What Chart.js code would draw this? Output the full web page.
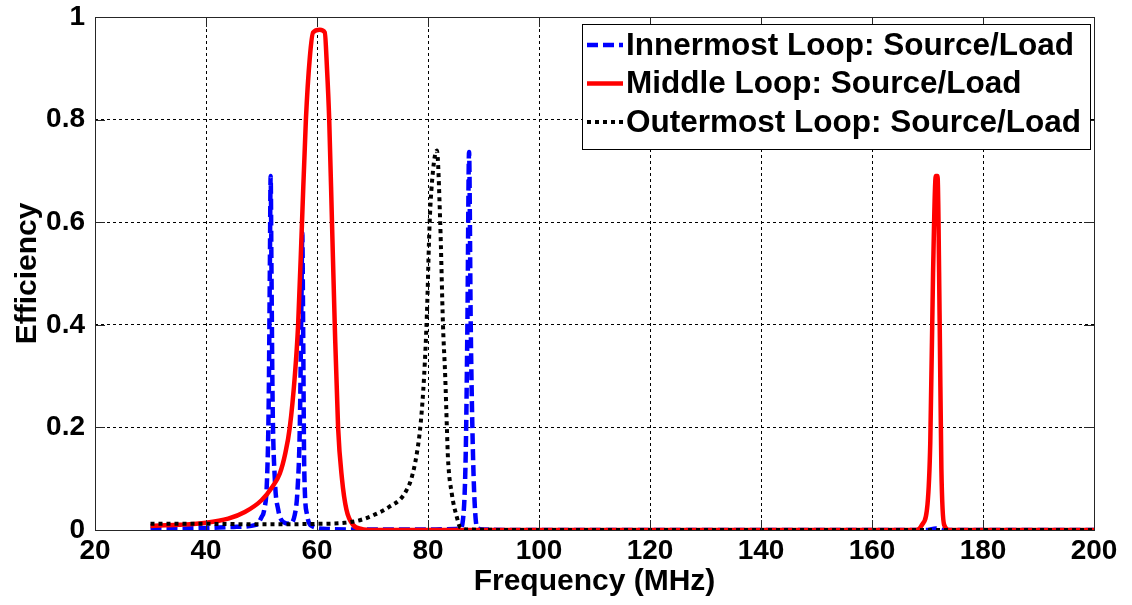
<!DOCTYPE html>
<html>
<head>
<meta charset="utf-8">
<script src="https://cdn.jsdelivr.net/npm/chart.js@4.4.1/dist/chart.umd.min.js"></script>
<style>
  html, body { margin: 0; padding: 0; background: #fff; }
  #wrap { width: 1132px; height: 605px; }
</style>
</head>
<body>
<div id="wrap"><canvas id="chart" width="1132" height="605"></canvas></div>
<script>
const FONT = '"Liberation Sans", Arial, sans-serif';

const X_TICKS = [20, 40, 60, 80, 100, 120, 140, 160, 180, 200];
const Y_TICKS = [0, 0.2, 0.4, 0.6, 0.8, 1];

// innermost loop, frequency in MHz and efficiency
const innerFreq = [30, 35, 40, 45, 49, 50, 50.5, 51, 51.3, 51.5, 51.65, 51.8, 52, 52.4, 53, 54, 55,
  56, 56.5, 56.9, 57.2, 57.35, 57.5, 57.7, 58.2, 59, 62, 70, 80, 85, 85.8, 86.3, 86.8, 87.1, 87.4,
  87.7, 88.1, 88.6, 89, 90, 100, 150, 170, 171.5, 173, 200];
const innerEff = [0.003, 0.003, 0.004, 0.006, 0.01, 0.025, 0.04, 0.1, 0.25, 0.5, 0.69, 0.5, 0.25, 0.1, 0.04, 0.015, 0.012,
  0.03, 0.08, 0.2, 0.45, 0.58, 0.4, 0.12, 0.03, 0.008, 0.002, 0.001, 0.001, 0.002, 0.003, 0.02, 0.15, 0.4, 0.737,
  0.4, 0.15, 0.02, 0.003, 0.001, 0, 0, 0, 0.003, 0, 0];

// middle loop
const middleFreq = [30, 35, 40, 44, 47, 50, 52, 53.3, 54.3, 55.1, 56, 56.6, 57.3, 58, 58.7, 59.3, 60.5,
  61.4, 61.8, 62.2, 62.7, 63.2, 63.8, 64.5, 65.3, 66.5, 68, 70, 168, 169, 170, 170.5, 171, 171.5,
  171.8, 172.2, 172.5, 173, 174, 200];
const middleEff = [0.008, 0.01, 0.014, 0.022, 0.035, 0.058, 0.085, 0.11, 0.15, 0.2, 0.3, 0.4, 0.6, 0.8, 0.92, 0.97, 0.975,
  0.97, 0.9, 0.8, 0.6, 0.4, 0.2, 0.1, 0.04, 0.01, 0.002, 0, 0, 0.01, 0.05, 0.17, 0.5, 0.69,
  0.69, 0.4, 0.12, 0.01, 0, 0];

// outermost loop
const outerFreq = [30, 40, 50, 60, 65, 68, 71.4, 73, 75, 76, 77, 78, 78.7, 79.3, 79.8, 80.3, 80.9, 81.6,
  82.2, 82.7, 83.1, 83.4, 83.6, 84.3, 85.2, 85.8, 87, 100, 200];
const outerEff = [0.012, 0.012, 0.011, 0.012, 0.014, 0.02, 0.035, 0.045, 0.06, 0.075, 0.1, 0.15, 0.21, 0.3, 0.42, 0.6, 0.7, 0.74,
  0.6, 0.4, 0.3, 0.2, 0.14, 0.07, 0.025, 0.005, 0.001, 0, 0];

const LABELS = [
  "Innermost Loop: Source/Load",
  "Middle Loop: Source/Load",
  "Outermost Loop: Source/Load",
];

function toPoints(xs, ys) {
  return xs.map((x, i) => ({ x: x, y: ys[i] }));
}

// boxed legend in the upper right plus the closed axes frame with inward ticks
const frameAndLegend = {
  id: "frameAndLegend",
  afterDraw(chart) {
    const ctx = chart.ctx;
    const area = chart.chartArea;
    const xs = chart.scales.x;
    const ys = chart.scales.y;

    ctx.save();
    ctx.strokeStyle = "#262626";
    ctx.lineWidth = 1;
    ctx.setLineDash([]);
    ctx.beginPath();
    X_TICKS.forEach((v) => {
      const px = Math.round(xs.getPixelForValue(v)) + 0.5;
      ctx.moveTo(px, area.bottom);
      ctx.lineTo(px, area.bottom - 10);
      ctx.moveTo(px, area.top);
      ctx.lineTo(px, area.top + 10);
    });
    Y_TICKS.forEach((v) => {
      const py = Math.round(ys.getPixelForValue(v)) + 0.5;
      ctx.moveTo(area.left, py);
      ctx.lineTo(area.left + 10, py);
      ctx.moveTo(area.right, py);
      ctx.lineTo(area.right - 10, py);
    });
    ctx.stroke();
    ctx.strokeRect(Math.round(area.left) + 0.5, Math.round(area.top) + 0.5,
      Math.round(area.right - area.left), Math.round(area.bottom - area.top));

    // legend
    const bx = 582, by = 24, bw = 508, bh = 125;
    ctx.fillStyle = "#fff";
    ctx.fillRect(bx, by, bw, bh);
    ctx.strokeStyle = "#000";
    ctx.strokeRect(bx + 0.5, by + 0.5, bw, bh);
    ctx.font = "bold 31.5px " + FONT;
    ctx.textBaseline = "middle";
    ctx.textAlign = "left";
    chart.data.datasets.forEach((ds, i) => {
      const cy = by + 21 + i * 38.5;
      ctx.save();
      ctx.strokeStyle = ds.borderColor;
      ctx.lineWidth = ds.borderWidth;
      ctx.setLineDash(ds.borderDash || []);
      ctx.lineCap = "butt";
      ctx.beginPath();
      ctx.moveTo(bx + 5, cy);
      ctx.lineTo(bx + 41, cy);
      ctx.stroke();
      ctx.restore();
      ctx.fillStyle = "#000";
      ctx.fillText(ds.label, bx + 44, cy + 1);
    });
    ctx.restore();
  },
};

new Chart(document.getElementById("chart"), {
  type: "line",
  data: {
    datasets: [
      {
        label: LABELS[0],
        data: toPoints(innerFreq, innerEff),
        borderColor: "#0000ff",
        borderWidth: 4.5,
        borderDash: [11, 5],
        order: 2,
      },
      {
        label: LABELS[1],
        data: toPoints(middleFreq, middleEff),
        borderColor: "#ff0000",
        borderWidth: 4.5,
        order: 1,
      },
      {
        label: LABELS[2],
        data: toPoints(outerFreq, outerEff),
        borderColor: "#000000",
        borderWidth: 4,
        borderDash: [4, 4],
        order: 0,
      },
    ],
  },
  options: {
    responsive: false,
    animation: false,
    devicePixelRatio: 1,
    layout: { padding: { left: 0, right: 38, top: 17, bottom: 0 } },
    elements: {
      point: { radius: 0 },
      line: { cubicInterpolationMode: "monotone", fill: false },
    },
    scales: {
      x: {
        type: "linear",
        min: 20,
        max: 200,
        afterFit(scale) {
          scale.height = 75;
          scale.paddingLeft = 0;
          scale.paddingRight = 0;
        },
        afterBuildTicks(scale) { scale.ticks = X_TICKS.map((v) => ({ value: v })); },
        ticks: {
          color: "#000",
          padding: 4,
          maxRotation: 0,
          font: { family: FONT, size: 28, weight: "bold" },
        },
        grid: { color: "#000", lineWidth: 1, drawTicks: false },
        border: { display: false, dash: [3, 3] },
        title: {
          display: true,
          text: "Frequency (MHz)",
          color: "#000",
          padding: { top: 0, bottom: 5 },
          font: { family: FONT, size: 30, weight: "bold" },
        },
      },
      y: {
        min: 0,
        max: 1,
        afterFit(scale) {
          scale.width = 95;
          scale.paddingTop = 0;
          scale.paddingBottom = 0;
        },
        afterBuildTicks(scale) { scale.ticks = Y_TICKS.map((v) => ({ value: v })); },
        ticks: {
          color: "#000",
          padding: 10,
          font: { family: FONT, size: 28, weight: "bold" },
          callback: (v) => String(Math.round(v * 10) / 10),
        },
        grid: { color: "#000", lineWidth: 1, drawTicks: false },
        border: { display: false, dash: [3, 3] },
        title: {
          display: true,
          text: "Efficiency",
          color: "#000",
          padding: { top: 10, bottom: 0 },
          font: { family: FONT, size: 30, weight: "bold" },
        },
      },
    },
    plugins: {
      legend: { display: false },
      tooltip: { enabled: false },
    },
  },
  plugins: [frameAndLegend],
});
</script>
</body>
</html>
